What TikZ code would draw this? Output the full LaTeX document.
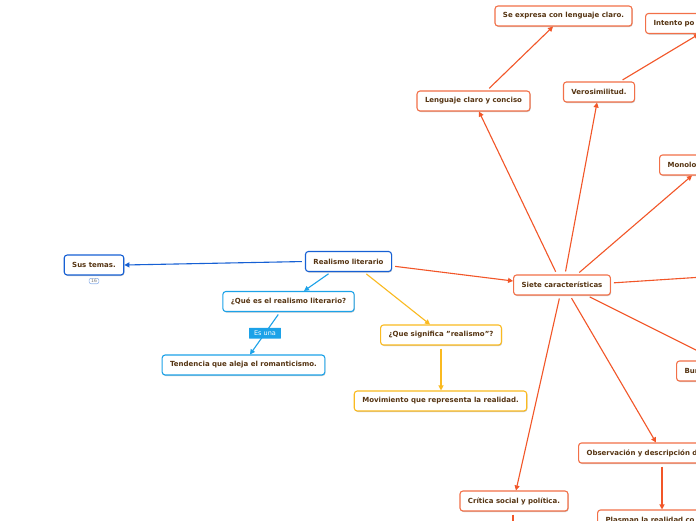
\documentclass[tikz,border=0pt]{standalone}
\usepackage{fontspec}
\setmainfont{DejaVu Sans}
\usetikzlibrary{arrows.meta,shadows}
\definecolor{txt}{RGB}{85,52,18}
\definecolor{ored}{RGB}{242,86,40}
\definecolor{obox}{RGB}{242,112,72}
\definecolor{bblue}{RGB}{22,96,212}
\definecolor{ccyan}{RGB}{28,162,232}
\definecolor{yyel}{RGB}{250,186,32}
\tikzset{
  base/.style={rounded corners=3pt, line width=1.1pt, fill=white, text=txt,
    font=\fontsize{7}{8}\selectfont\bfseries, minimum height=20pt, inner xsep=8pt,
    drop shadow={shadow xshift=0.6pt, shadow yshift=-1pt, opacity=0.22, fill=black}},
  orbox/.style={base, draw=obox},
  blbox/.style={base, draw=bblue},
  cybox/.style={base, draw=ccyan},
  yebox/.style={base, draw=yyel},
  cutbox/.style={orbox, anchor=west, text width=#1, align=left},
  ol/.style={draw=ored, line width=1.1pt, shorten <=3pt},
  oa/.style={ol, -{Triangle[length=5pt,width=5pt]}},
  bla/.style={draw=bblue, line width=1.1pt, shorten <=3pt, -{Triangle[length=5pt,width=5pt]}},
  cya/.style={draw=ccyan, line width=1.1pt, shorten <=3pt, -{Triangle[length=5pt,width=5pt]}},
  yea/.style={draw=yyel, line width=1.1pt, shorten <=3pt, -{Triangle[length=5pt,width=5pt]}},
  lbl/.style={fill=ccyan, text=white, font=\fontsize{6.5}{7}\selectfont, inner xsep=5pt, inner ysep=3pt, rounded corners=0.5pt},
  badge/.style={draw=bblue!45, rounded corners=2pt, line width=0.6pt, fill=white, text=black!55,
    font=\fontsize{4.5}{5}\selectfont, inner xsep=2pt, inner ysep=1pt}
}
\begin{document}
\begin{tikzpicture}[x=1pt,y=-1pt]
\useasboundingbox (0,0) rectangle (696,520);
\clip (0,0) rectangle (696,520);
\fill[white] (0,0) rectangle (696,520);
% nodes
\node[blbox] (sus) at (94,265) {Sus temas.};
\node[badge] (bdg) at (94,281) {16};
\node[blbox] (real) at (348.5,261.5) {Realismo literario};
\node[cybox] (que) at (288.5,301.5) {¿Qué es el realismo literario?};
\node[yebox] (sig) at (441,335) {¿Que significa "realismo"?};
\node[cybox] (tend) at (243.5,365) {Tendencia que aleja el romanticismo.};
\node[yebox] (mov) at (440.5,401) {Movimiento que representa la realidad.};
\node[orbox] (siete) at (562,285) {Siete características};
\node[orbox] (leng) at (473.5,101) {Lenguaje claro y conciso};
\node[orbox] (seexp) at (563.5,16) {Se expresa con lenguaje claro.};
\node[orbox] (vero) at (599,92) {Verosimilitud.};
\node[cutbox=128pt] (intento) at (645,23.5) {Intento po};
\node[cutbox=74pt] (monolo) at (659,165) {Monolo};
\node[cutbox=90pt] (bur) at (676,371) {Bur};
\node[cutbox=190pt] (obs) at (578,453) {Observación y descripción d};
\node[orbox] (crit) at (514,501) {Crítica social y política.};
\node[cutbox=190pt] (plas) at (597,520) {Plasman la realidad co};
\coordinate (offR) at (780,272);
\coordinate (offDR) at (780,392);
\coordinate (offB) at (513,545);
% connectors
\draw[bla] (real.west) -- (sus.east);
\draw[cya] (real.south -| 331,0) -- (que.north -| 304,0);
\draw[yea] (real.south -| 364,0) -- (sig.north -| 430,0);
\draw[cya] (que.south -| 280,0) -- node[lbl] (esuna) {Es una} (tend.north -| 250,0);
\draw[yea] (sig.south -| 441,0) -- (mov.north -| 441,0);
\draw[oa] (real.east |- 0,266) -- (siete.west |- 0,281);
\draw[oa] (siete.north -| 557,0) -- (leng.south -| 479,0);
\draw[oa] (leng.north -| 487,0) -- (seexp.south -| 553,0);
\draw[oa] (siete.north -| 565,0) -- (vero.south -| 597,0);
\draw[oa] (vero.north -| 620,0) -- (intento.south -| 699,0);
\draw[oa] (siete.north -| 577,0) -- (monolo.south -| 692,0);
\draw[ol] (siete.east |- 0,283) -- (offR);
\draw[ol] (siete.south -| 587,0) -- (offDR);
\draw[oa] (siete.south -| 570,0) -- (obs.north -| 656,0);
\draw[oa] (siete.south -| 560,0) -- (crit.north -| 516,0);
\draw[ol] (crit.south -| 513,0) -- (offB);
\draw[oa] (obs.south -| 662,0) -- (plas.north -| 662,0);
\end{tikzpicture}
\end{document}
